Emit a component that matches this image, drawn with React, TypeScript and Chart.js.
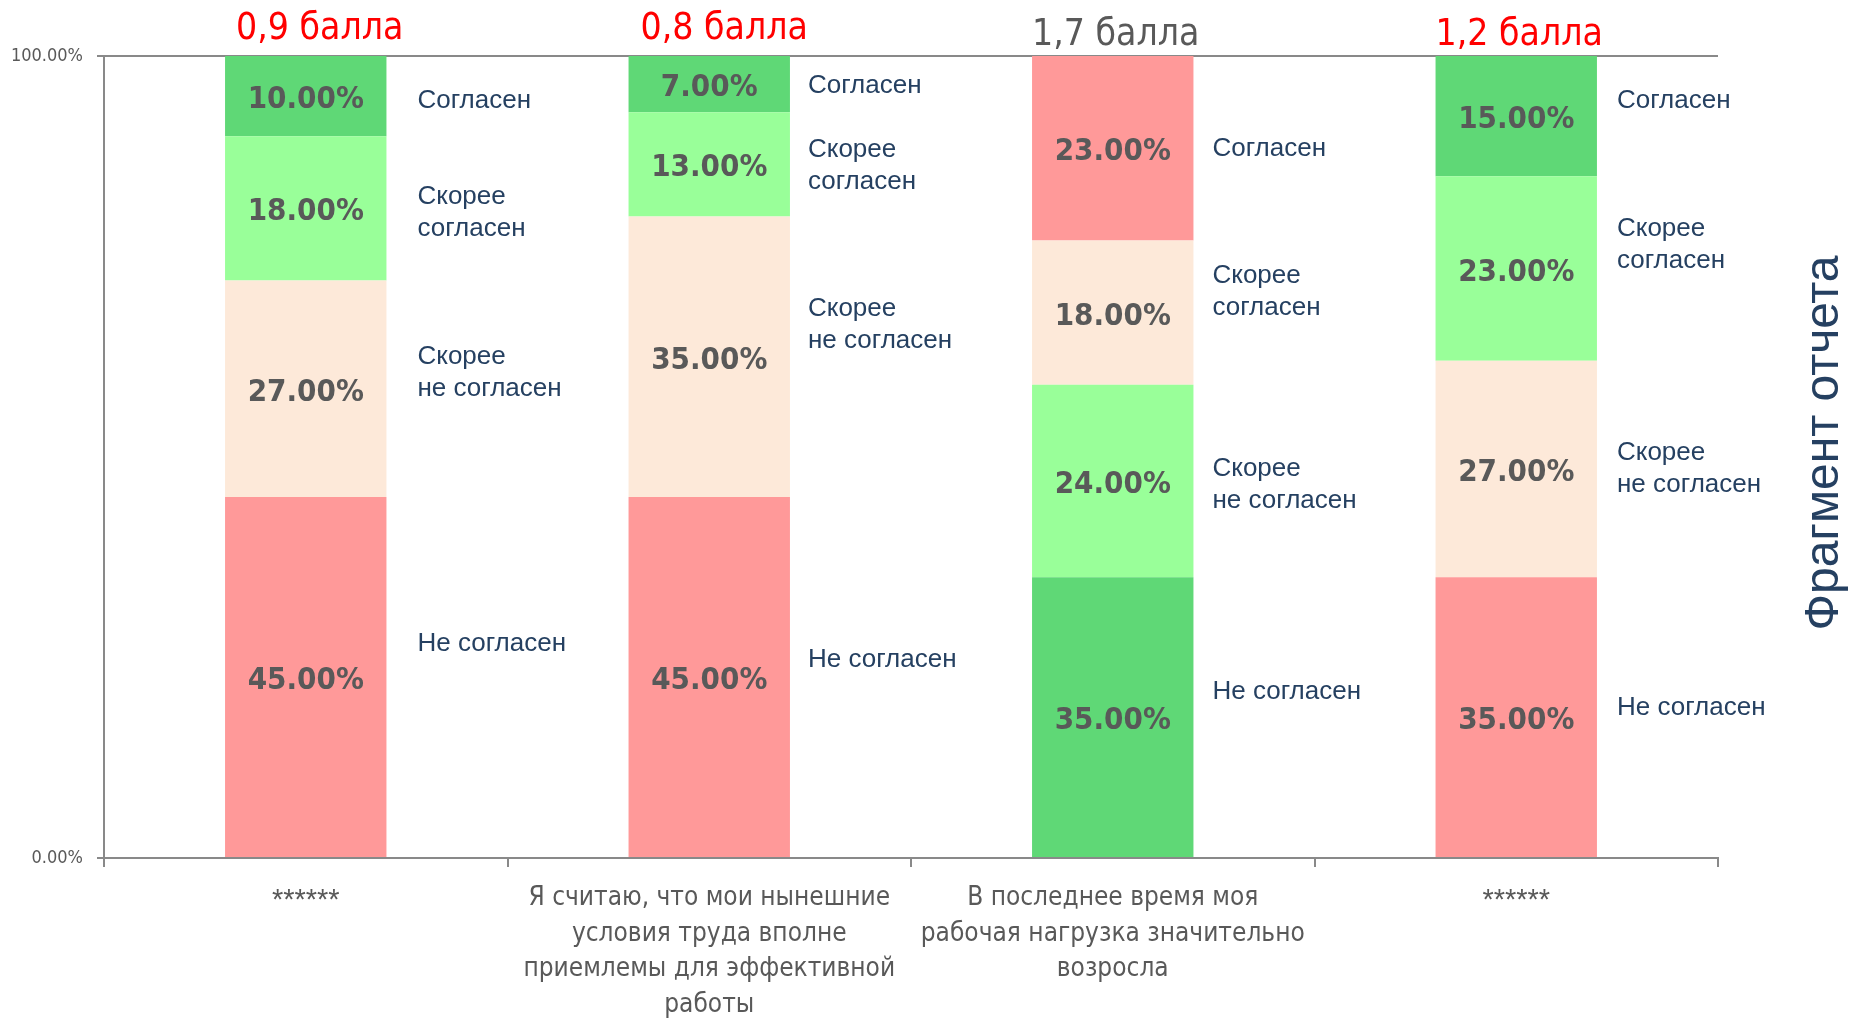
import React, { useEffect, useRef } from "react";
import { Chart, registerables } from "chart.js";

Chart.register(...registerables);

const categories: (string | string[])[] = [
  "******",
  ["Я считаю, что мои нынешние", "условия труда вполне", "приемлемы для эффективной", "работы"],
  ["В последнее время моя", "рабочая нагрузка значительно", "возросла"],
  "******",
];

const seriesNames = ["Не согласен", "Скорее не согласен", "Скорее согласен", "Согласен"];
const seriesLabelLines = [["Не согласен"], ["Скорее", "не согласен"], ["Скорее", "согласен"], ["Согласен"]];

const disagree = [45, 45, 35, 35];
const ratherDisagree = [27, 35, 24, 27];
const ratherAgree = [18, 13, 18, 23];
const agree = [10, 7, 23, 15];

// label positions (in percent units) of the series name labels beside each bar
const posDisagree = [26.9, 24.9, 21.0, 19.0];
const posRatherDisagree = [60.7, 66.7, 46.8, 48.8];
const posRatherAgree = [80.7, 86.5, 70.8, 76.7];
const posAgree = [94.7, 96.5, 88.7, 94.7];

const scores = ["0,9 балла", "0,8 балла", "1,7 балла", "1,2 балла"];
const scoreColors = ["#FF0000", "#FF0000", "#595959", "#FF0000"];

const RED = "#FF9999";
const PEACH = "#FDE9D9";
const LG = "#99FF99";
const G = "#5FD876";

const colorsDisagree = [RED, RED, G, RED];
const colorsRatherDisagree = [PEACH, PEACH, LG, PEACH];
const colorsRatherAgree = [LG, LG, PEACH, LG];
const colorsAgree = [G, G, RED, G];

const NARROW = "'Liberation Sans Narrow', 'DejaVu Sans Condensed', sans-serif";
const SANS = "'Liberation Sans', Arial, sans-serif";

const labelXOffsets = [31, 18, 19, 20];
const scoreYOffsets = [27, 27, 21, 21];
const scoreXOffsets = [14, 15, 3, 3];

const overlayPlugin = {
  id: "overlay",
  afterDatasetsDraw(chart: any) {
    const ctx = chart.ctx;
    const yScale = chart.scales.y;
    const positions = [posDisagree, posRatherDisagree, posRatherAgree, posAgree];
    ctx.save();
    chart.data.datasets.forEach((ds: any, i: number) => {
      const meta = chart.getDatasetMeta(i);
      meta.data.forEach((bar: any, j: number) => {
        const v = ds.data[j];
        const cy = (bar.y + bar.base) / 2;
        ctx.font = `bold 31px ${NARROW}`;
        ctx.fillStyle = "#595959";
        ctx.textAlign = "center";
        ctx.textBaseline = "middle";
        ctx.fillText(v.toFixed(2) + "%", bar.x, cy + 4);
        const lines = seriesLabelLines[i];
        const ly = yScale.getPixelForValue(positions[i][j]) + 2;
        const lh = 32;
        ctx.font = `26px ${SANS}`;
        ctx.fillStyle = "#254061";
        ctx.textAlign = "left";
        const x = bar.x + bar.width / 2 + labelXOffsets[j];
        lines.forEach((ln: string, k: number) => {
          ctx.fillText(ln, x, ly + (k - (lines.length - 1) / 2) * lh);
        });
      });
    });
    const meta0 = chart.getDatasetMeta(0);
    meta0.data.forEach((bar: any, j: number) => {
      ctx.font = `37px ${NARROW}`;
      ctx.fillStyle = scoreColors[j];
      ctx.textAlign = "center";
      ctx.textBaseline = "middle";
      ctx.fillText(scores[j], bar.x + scoreXOffsets[j], chart.chartArea.top - scoreYOffsets[j]);
    });
    ctx.translate(1825, 443);
    ctx.rotate(-Math.PI / 2);
    ctx.font = `48px ${SANS}`;
    ctx.fillStyle = "#254061";
    ctx.textAlign = "center";
    ctx.textBaseline = "middle";
    ctx.fillText("Фрагмент отчета", 0, 0);
    ctx.restore();
  },
};

export default function App() {
  const ref = useRef<HTMLCanvasElement | null>(null);
  useEffect(() => {
    document.body.style.margin = "0";
    if (!ref.current) return;
    const chart = new Chart(ref.current, {
      type: "bar",
      data: {
        labels: categories as any,
        datasets: [
          { label: seriesNames[0], data: disagree, backgroundColor: colorsDisagree },
          { label: seriesNames[1], data: ratherDisagree, backgroundColor: colorsRatherDisagree },
          { label: seriesNames[2], data: ratherAgree, backgroundColor: colorsRatherAgree },
          { label: seriesNames[3], data: agree, backgroundColor: colorsAgree },
        ].map((d) => ({ ...d, barPercentage: 0.4, categoryPercentage: 1, borderWidth: 0 })),
      },
      options: {
        animation: false,
        responsive: false,
        maintainAspectRatio: false,
        layout: { padding: { left: 0, right: 133, top: 56, bottom: 0 } },
        plugins: { legend: { display: false }, tooltip: { enabled: false } },
        scales: {
          x: {
            stacked: true,
            afterFit: (s: any) => {
              s.height = 160;
            },
            grid: {
              offset: true,
              drawOnChartArea: false,
              drawTicks: true,
              tickLength: 9,
              color: "#898989",
              lineWidth: 2,
            },
            border: { color: "#898989", width: 2 },
            ticks: {
              autoSkip: false,
              maxRotation: 0,
              minRotation: 0,
              padding: 14,
              color: "#595959",
              font: (c: any) =>
                c.index === 0 || c.index === 3
                  ? { family: SANS, size: 29, lineHeight: 1.36 }
                  : { family: NARROW, size: 26, lineHeight: 1.36 },
            },
          },
          y: {
            stacked: true,
            min: 0,
            max: 100,
            afterFit: (s: any) => {
              s.width = 104;
            },
            grid: {
              drawTicks: true,
              tickLength: 7,
              color: "#898989",
              lineWidth: 2,
            },
            border: { color: "#898989", width: 2 },
            ticks: {
              stepSize: 100,
              padding: 14,
              color: "#595959",
              font: { family: NARROW, size: 18 },
              callback: (v: any) => Number(v).toFixed(2) + "%",
            },
          },
        },
      },
      plugins: [overlayPlugin],
    });
    return () => chart.destroy();
  }, []);
  return <canvas ref={ref} width={1851} height={1018} style={{ display: "block" }} />;
}
